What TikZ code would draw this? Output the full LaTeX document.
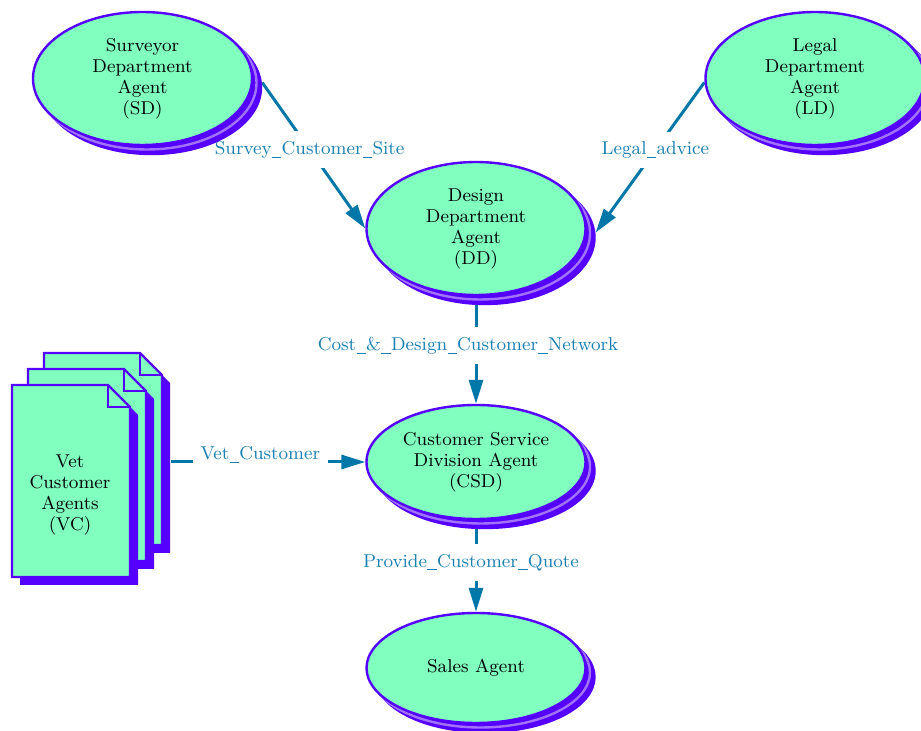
\documentclass[tikz,border=0pt]{standalone}
\usepackage{amsmath}
\usepackage{tikz}
\usetikzlibrary{arrows.meta}
\usetikzlibrary{shapes.geometric,shadows}
\usetikzlibrary{calc}

\definecolor{aqua}{RGB}{128,255,191}
\definecolor{agentblue}{RGB}{85,0,255}
\definecolor{flowblue}{RGB}{0,119,168}
\definecolor{flowtext}{RGB}{25,128,180}

\newcommand{\usc}{\kern0.2pt\rule[-1.6pt]{4.6pt}{0.45pt}\kern0.2pt}

\pgfdeclarelayer{back}
\pgfsetlayers{back,main}

\begin{document}
\begin{tikzpicture}[x=0.5pt,y=-0.5pt,
	every node/.style={font=\fontsize{9.3}{10.5}\selectfont},
	agent/.style={ellipse,fill=aqua,draw=agentblue,line width=1.2pt,inner sep=0pt,
		minimum width=109.5pt,minimum height=66.5pt,align=center,
		copy shadow={shadow xshift=4.5pt,shadow yshift=-4.5pt,fill=agentblue,draw=agentblue},
		copy shadow={shadow xshift=2.25pt,shadow yshift=-2.25pt,fill=agentblue,draw=agentblue!55!white}},
	flow/.style={draw=flowblue,line width=1.5pt,-{Triangle[length=12pt,width=7pt]}},
	msg/.style={fill=white,text=flowtext,inner xsep=1pt,inner ysep=5pt}]
		
		\useasboundingbox (0,0) rectangle (921,731);
		
		\node[agent] (sd) at (142.5,78.5) {Surveyor\\Department\\Agent\\(SD)};
		\node[agent] (ld) at (815,78.5) {Legal\\Department\\Agent\\(LD)};
		\node[agent] (dd) at (476,228.5) {Design\\Department\\Agent\\(DD)};
		\node[agent,minimum height=57pt] (csd) at (476,462) {Customer Service\\Division Agent\\(CSD)};
		\node[agent,minimum height=55pt] (sa) at (476,668) {Sales Agent};
		
		% stack of vet pages
		\foreach \d in {32,16,0}{
			\begin{scope}[shift={(\d,-\d)}]
				\fill[agentblue] (20,393) -- (116,393) -- (138,415) -- (138,585) -- (20,585) -- cycle;
				\draw[agentblue,line width=1.2pt,fill=aqua] (12,385) -- (108,385) -- (130,407) -- (130,577) -- (12,577) -- cycle;
				\draw[agentblue,line width=1.2pt] (108,385) -- (108,407) -- (130,407);
			\end{scope}
		}
		\node[align=center] (vc) at (70,495) {Vet\\Customer\\Agents\\(VC)};
		\coordinate (vcside) at (171,462);
		
		\begin{pgfonlayer}{back}
		\draw[flow] ($(sd.east)+(9,4)$) -- node[msg,pos=0.46]{Survey\usc Customer\usc Site} (dd.west);
		\draw[flow] ($(ld.west)+(0,4)$) -- node[msg,pos=0.45]{Legal\usc advice} ($(dd.east)+(9,4)$);
		\draw[flow] (dd.south) -- node[msg,pos=0.46,xshift=-4pt]{Cost\usc\&\usc Design\usc Customer\usc Network} (csd.north);
		\draw[flow] (vcside) -- node[msg,pos=0.46,yshift=3.5pt,inner xsep=4pt]{Vet\usc Customer} (csd.west);
		\draw[flow] (csd.south) -- node[msg,pos=0.46,xshift=-2.5pt]{Provide\usc Customer\usc Quote} (sa.north);
		\end{pgfonlayer}
		
	\end{tikzpicture}
\end{document}
